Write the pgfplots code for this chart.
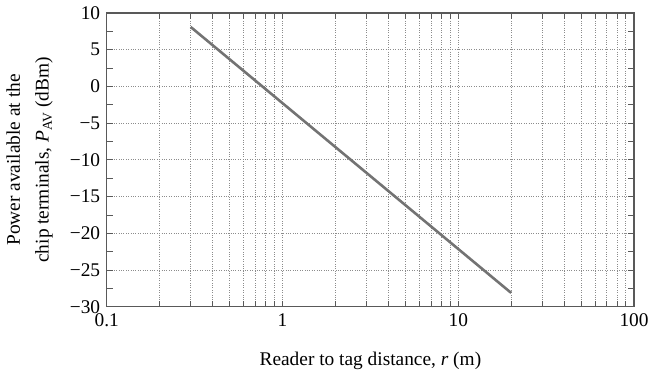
\documentclass[border=0pt]{standalone}
\usepackage{fontspec}
\setmainfont{Liberation Serif}
\usepackage{pgfplots}
\pgfplotsset{compat=1.18}
\begin{document}
\fontsize{19.5}{24}\selectfont
\begin{tikzpicture}
\begin{axis}[
  scale only axis,
  width=531pt, height=296pt,
  xmode=log,
  xmin=0.1, xmax=100,
  ymin=-30, ymax=10,
  xtick={0.1,1,10,100},
  xticklabels={0.1,1,10,100},
  ytick={-30,-25,-20,-15,-10,-5,0,5,10},
  yticklabels={−30,−25,−20,−15,−10,−5,0,5,10},
  minor ytick={-27.5,-22.5,-17.5,-12.5,-7.5,-2.5,2.5,7.5},
  tick label style={font=\fontsize{19.5}{24}\selectfont},
  label style={font=\fontsize{19.5}{29}\selectfont},
  grid=major,
  xminorgrids=true,
  yminorgrids=false,
  major grid style={dotted, gray!90, line width=1pt},
  minor grid style={dotted, gray!90, line width=1pt},
  axis line style={gray!70!black, line width=1.2pt},
  tick style={gray!70!black, line width=1pt},
  major tick length=6pt,
  minor tick length=6pt,
  tick align=inside,
  xlabel={Reader to tag distance, \textit{r} (m)},
  ylabel={Power available at the\\chip terminals, \textit{P}\textsubscript{AV} (dBm)},
  ylabel style={align=center},
  xlabel style={yshift=-12pt},
  ylabel style={yshift=4pt},
]
\addplot[color=black!55, line width=2.6pt] coordinates {(0.3,8.1) (20,-28.1)};
\end{axis}
\end{tikzpicture}
\end{document}
